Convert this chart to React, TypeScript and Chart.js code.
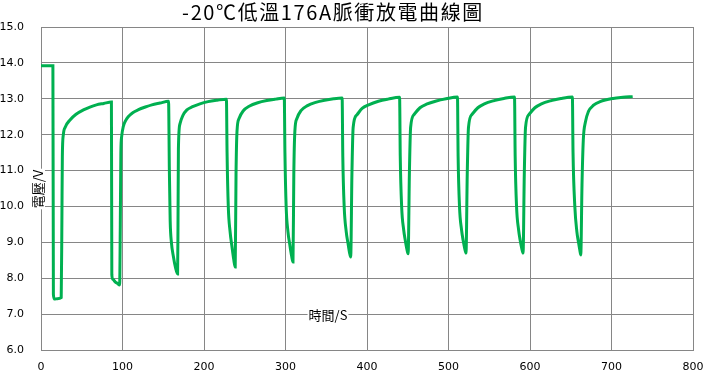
import React, { useEffect, useRef } from "react";
import { Chart, registerables } from "chart.js";

Chart.register(...registerables);

const TITLE = "-20℃低溫176A脈衝放電曲線圖";
const Y_TITLE = "電壓/V";
const X_TITLE = "時間/S";

const X_MIN = 0;
const X_MAX = 800;
const X_STEP = 100;
const Y_MIN = 6;
const Y_MAX = 15;
const Y_STEP = 1;

// time (s)
const timeS = [
  // rest + pulse 1
  0, 14.6, 15.2, 16.5, 20, 24.8, 25.6, 26.2, 27.4, 30, 35.6, 43, 52, 60, 68, 77, 86.4,
  // pulse 2
  86.9, 88, 91, 94, 96.5, 97.3, 98, 99, 101, 104, 107, 113, 119, 128, 136, 146, 156.5,
  // pulse 3
  157.5, 158.5, 160, 162.5, 165, 167.6, 168.1, 168.6, 170.5, 174, 179, 186, 195, 205, 216, 227.5,
  // pulse 4
  228.3, 229.8, 232, 234.5, 236.5, 238.3, 239.3, 240.5, 243, 248, 256, 266, 277, 288, 298.5,
  // pulse 5
  299.3, 300.8, 303, 305.5, 307.5, 309.2, 310.2, 311.5, 314, 319, 327, 337, 348, 359, 369.5,
  // pulse 6
  370.3, 372, 374.5, 376.5, 378.5, 380, 381.5, 383, 387.5, 394, 402, 414, 426, 440,
  // pulse 7
  440.8, 442.5, 445, 447, 449, 450.5, 452, 453.5, 458, 465, 473, 485, 497, 511,
  // pulse 8
  511.8, 513.5, 516, 518, 520, 521.5, 523, 524.5, 529, 536, 544, 556, 568, 581,
  // pulse 9
  581.8, 583.5, 586, 588, 590, 591.5, 593, 594.5, 599, 606, 614, 626, 638, 652,
  // pulse 10
  652.8, 655, 657.5, 659.5, 661, 662.3, 663.8, 665.4, 668, 671.6, 678, 686, 702, 714, 726,
];

// voltage (V)
const voltageV = [
  // rest + pulse 1
  13.92, 13.92, 7.55, 7.42, 7.43, 7.46, 9.5, 11.4, 12.0, 12.22, 12.41, 12.57, 12.69, 12.77, 12.83, 12.87, 12.91,
  // pulse 2
  8.1, 7.97, 7.9, 7.85, 7.81, 9.5, 11.5, 11.95, 12.23, 12.4, 12.5, 12.62, 12.69, 12.77, 12.83, 12.88, 12.93,
  // pulse 3
  11.0, 9.6, 9.0, 8.6, 8.3, 8.12, 9.5, 11.6, 12.3, 12.53, 12.69, 12.78, 12.86, 12.92, 12.96, 12.99,
  // pulse 4
  11.5, 10.0, 9.3, 8.85, 8.52, 8.31, 10.9, 12.1, 12.45, 12.66, 12.8, 12.89, 12.95, 12.99, 13.02,
  // pulse 5
  11.5, 10.0, 9.3, 8.9, 8.62, 8.45, 10.9, 12.1, 12.45, 12.67, 12.81, 12.9, 12.96, 13.0, 13.02,
  // pulse 6
  11.4, 10.0, 9.3, 9.0, 8.72, 8.59, 10.9, 12.2, 12.55, 12.73, 12.83, 12.93, 12.99, 13.04,
  // pulse 7
  11.4, 10.0, 9.35, 9.05, 8.8, 8.68, 10.9, 12.2, 12.57, 12.75, 12.85, 12.94, 13.0, 13.05,
  // pulse 8
  11.4, 10.0, 9.35, 9.05, 8.82, 8.7, 10.9, 12.2, 12.57, 12.75, 12.86, 12.95, 13.01, 13.05,
  // pulse 9
  11.4, 10.0, 9.35, 9.05, 8.82, 8.7, 10.9, 12.2, 12.57, 12.75, 12.86, 12.95, 13.01, 13.05,
  // pulse 10
  11.5, 10.0, 9.3, 9.0, 8.8, 8.65, 10.6, 11.85, 12.35, 12.64, 12.82, 12.92, 13.01, 13.04, 13.06,
];

const GRID = "#868686";
const LINE = "rgb(0,176,80)";
const TICK_FONT = { family: "'DejaVu Sans', sans-serif", size: 11 };

const textPlugin = {
  id: "customTexts",
  afterDraw(chart: any) {
    const ctx = chart.ctx as any;
    ctx.save();
    // main title
    ctx.font = "20px 'Noto Sans CJK TC', sans-serif";
    ctx.fillStyle = "#000";
    ctx.textAlign = "center";
    ctx.textBaseline = "middle";
    ctx.letterSpacing = "1.6px";
    ctx.fillText(TITLE, 333, 12);
    ctx.letterSpacing = "0px";

    // x axis title (inside plot)
    ctx.font = "13px 'Noto Sans CJK TC', sans-serif";
    const xw = ctx.measureText(X_TITLE).width;
    ctx.fillStyle = "#fff";
    ctx.fillRect(328 - xw / 2 - 1, 315 - 8, xw + 2, 16);
    ctx.fillStyle = "#000";
    ctx.fillText(X_TITLE, 328, 315);

    // y axis title (rotated)
    ctx.translate(38, 189);
    ctx.rotate(-Math.PI / 2);
    const yw = ctx.measureText(Y_TITLE).width;
    ctx.fillStyle = "#fff";
    ctx.fillRect(-yw / 2 - 1, -7, yw + 2, 14);
    ctx.fillStyle = "#000";
    ctx.fillText(Y_TITLE, 0, 0);
    ctx.restore();
  },
};

export default function App() {
  const ref = useRef<HTMLCanvasElement | null>(null);

  useEffect(() => {
    if (!ref.current) return;
    const points = timeS.map((t, i) => ({ x: t, y: voltageV[i] }));
    const chart = new Chart(ref.current, {
      type: "line",
      data: {
        datasets: [
          {
            label: Y_TITLE,
            data: points,
            borderColor: LINE,
            backgroundColor: LINE,
            borderWidth: 3,
            pointRadius: 0,
            cubicInterpolationMode: "monotone",
            fill: false,
          },
        ],
      },
      options: {
        responsive: false,
        animation: false,
        devicePixelRatio: 1,
        layout: { padding: { top: 27, right: 10, left: 0, bottom: 0 } },
        plugins: {
          legend: { display: false },
          title: { display: false },
          tooltip: { enabled: false },
        },
        scales: {
          x: {
            type: "linear",
            min: X_MIN,
            max: X_MAX,
            ticks: { stepSize: X_STEP, padding: 11, font: TICK_FONT, color: "#000", maxRotation: 0 },
            grid: { color: GRID, drawTicks: false, lineWidth: 1 },
            border: { color: GRID },
            afterFit: (s: any) => {
              s.height = 22;
              s.paddingLeft = 0;
              s.paddingRight = 0;
            },
          },
          y: {
            type: "linear",
            min: Y_MIN,
            max: Y_MAX,
            ticks: {
              stepSize: Y_STEP,
              padding: 17,
              font: TICK_FONT,
              color: "#000",
              callback: (v: any) => Number(v).toFixed(1),
            },
            grid: { color: GRID, drawTicks: false, lineWidth: 1 },
            border: { color: GRID },
            afterFit: (s: any) => {
              s.width = 41;
              s.paddingTop = 0;
              s.paddingBottom = 0;
            },
          },
        },
      },
      plugins: [textPlugin],
    });
    return () => chart.destroy();
  }, []);

  return (
    <div style={{ position: "absolute", left: 0, top: 0, width: 703, height: 372, background: "#fff" }}>
      <canvas ref={ref} width={703} height={372} />
    </div>
  );
}
